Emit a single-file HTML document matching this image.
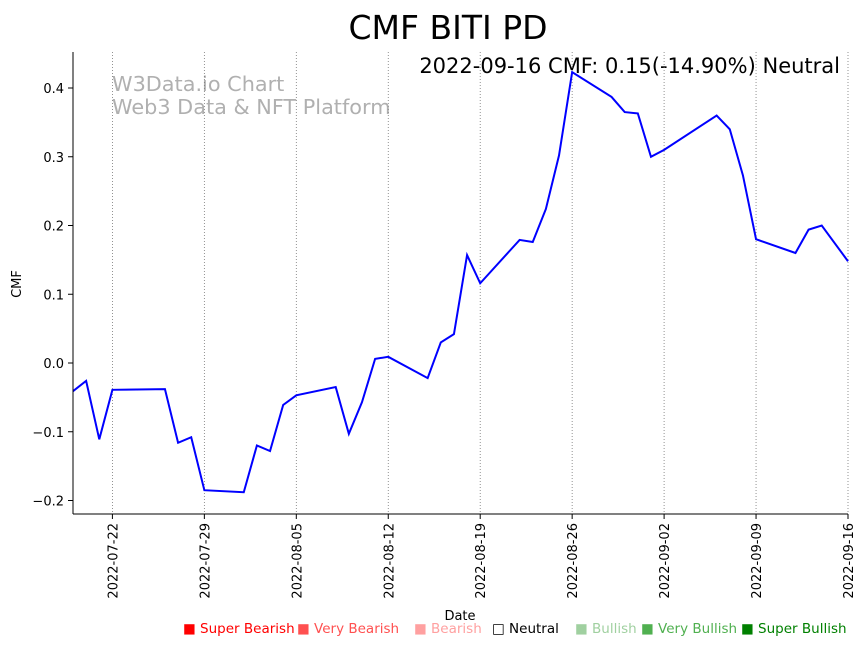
<!DOCTYPE html>
<html><head><meta charset="utf-8"><style>
body{margin:0;background:#fff;font-family:"Liberation Sans","DejaVu Sans",sans-serif}
svg text{font-family:"DejaVu Sans","Liberation Sans",sans-serif}
</style></head><body>
<svg id="c" width="864" height="646">
<text x="448" y="39" font-size="33" text-anchor="middle">CMF BITI PD</text>
<text x="840" y="73" font-size="21" text-anchor="end">2022-09-16 CMF: 0.15(-14.90%) Neutral</text>
<text x="112" y="91" font-size="20.8" fill="#b0b0b0">W3Data.io Chart</text>
<text x="112" y="114" font-size="20.8" fill="#b0b0b0">Web3 Data &amp; NFT Platform</text>
<g id="grid"></g><g id="xt"></g><g id="yt"></g>
<polyline id="line" fill="none" stroke="#0000ff" stroke-width="2"/>
<line x1="73" y1="52" x2="73" y2="514" stroke="#000"/>
<line x1="73" y1="514" x2="848" y2="514" stroke="#000"/>
<text x="21" y="284" font-size="13" text-anchor="middle" transform="rotate(-90 21 284)">CMF</text>
<text x="460" y="620" font-size="13" text-anchor="middle">Date</text>
<g font-size="13.5">
<text x="183" y="633" fill="#ff0000">■ Super Bearish</text>
<text x="297" y="633" fill="#ff5050">■ Very Bearish</text>
<text x="414" y="633" fill="#ffa0a0">■ Bearish</text>
<text x="492" y="633" fill="#000">□ Neutral</text>
<text x="575" y="633" fill="#a0d0a0">■ Bullish</text>
<text x="641" y="633" fill="#50b050">■ Very Bullish</text>
<text x="741" y="633" fill="#008000">■ Super Bullish</text>
</g>
</svg>
<script>
const days=[0,1,2,3,7,8,9,10,13,14,15,16,17,20,21,22,23,24,27,28,29,30,31,34,35,36,37,38,41,42,43,44,45,49,50,51,52,55,56,57,59];
const cmf=[-0.041,-0.026,-0.111,-0.039,-0.038,-0.116,-0.108,-0.185,-0.188,-0.12,-0.128,-0.061,-0.047,-0.035,-0.103,-0.057,0.006,0.009,-0.022,0.03,0.042,0.157,0.116,0.179,0.176,0.224,0.302,0.423,0.387,0.365,0.363,0.3,0.31,0.36,0.34,0.273,0.18,0.16,0.194,0.2,0.148];
const xTickLabels=["2022-07-22","2022-07-29","2022-08-05","2022-08-12","2022-08-19","2022-08-26","2022-09-02","2022-09-09","2022-09-16"];
const xTickDays=[3,10,17,24,31,38,45,52,59];
const yTicks=[-0.2,-0.1,0.0,0.1,0.2,0.3,0.4];
const NS="http://www.w3.org/2000/svg";
const X=d=>73+d*(775/59), Y=v=>363-v*687.5;
function mk(t,a,p){const e=document.createElementNS(NS,t);for(const k in a)e.setAttribute(k,a[k]);p.appendChild(e);return e;}
const grid=document.getElementById('grid'),xt=document.getElementById('xt'),yt=document.getElementById('yt');
xTickDays.forEach((d,i)=>{const x=X(d);
 const g=mk('line',{x1:x,y1:52,x2:x,y2:514,stroke:'#777','stroke-width':0.8,'stroke-dasharray':'1,2'},grid);
 
 
 mk('line',{x1:x,y1:514,x2:x,y2:519,stroke:'#000'},xt);
 const t=mk('text',{x:x+5,y:523,'font-size':13,'text-anchor':'end',transform:`rotate(-90 ${x+5} 523)`},xt);
 t.textContent=xTickLabels[i];
 
 
});
yTicks.forEach(v=>{const y=Y(v);
 mk('line',{x1:68,y1:y,x2:73,y2:y,stroke:'#000'},yt);
 const t=mk('text',{x:64,y:y+5,'font-size':13,'text-anchor':'end'},yt);
 t.textContent=(v<0?'\u2212':'')+Math.abs(v).toFixed(1);
 
 
});
document.getElementById('line').setAttribute('points',days.map((d,i)=>X(d)+','+Y(cmf[i])).join(' '));
</script>
</body></html>
